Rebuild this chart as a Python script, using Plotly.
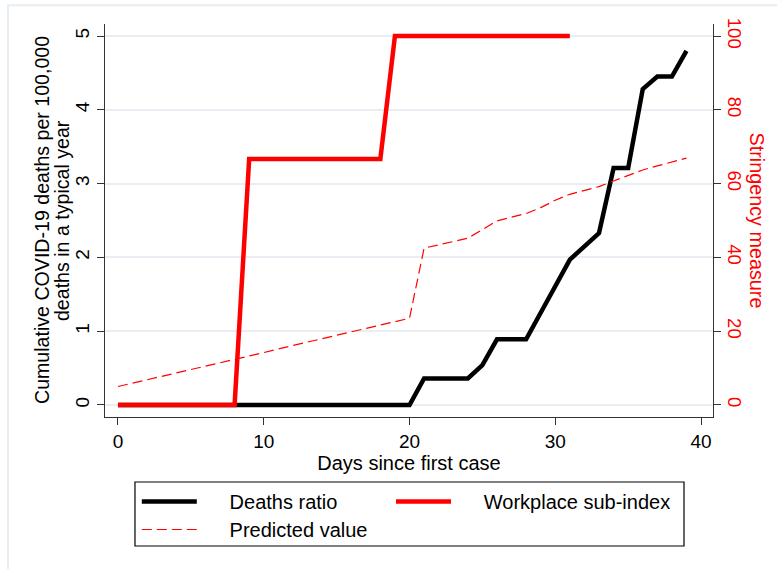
import plotly.graph_objects as go

days = list(range(40))

deaths_ratio = [0, 0, 0, 0, 0, 0, 0, 0, 0, 0,
                0, 0, 0, 0, 0, 0, 0, 0, 0, 0,
                0, 0.36, 0.36, 0.36, 0.36, 0.54, 0.89, 0.89, 0.89, 1.25,
                1.61, 1.97, 2.15, 2.33, 3.21, 3.21, 4.28, 4.45, 4.45, 4.80]

workplace_days = list(range(32))
workplace_index = [0, 0, 0, 0, 0, 0, 0, 0, 0, 66.67,
                   66.67, 66.67, 66.67, 66.67, 66.67, 66.67, 66.67, 66.67, 66.67, 100,
                   100, 100, 100, 100, 100, 100, 100, 100, 100, 100,
                   100, 100]

predicted = [5.0, 5.9, 6.8, 7.8, 8.7, 9.6, 10.5, 11.5, 12.4, 13.3,
             14.2, 15.2, 16.1, 17.0, 18.0, 18.9, 19.8, 20.7, 21.7, 22.6,
             23.5, 42.5, 43.4, 44.3, 45.2, 47.5, 49.9, 50.9, 51.9, 53.5,
             55.5, 57.1, 58.2, 59.2, 60.7, 62.1, 63.7, 64.8, 65.8, 66.9]

x_ticks = [0, 10, 20, 30, 40]
y_ticks = [0, 1, 2, 3, 4, 5]
y2_ticks = [0, 20, 40, 60, 80, 100]

FONT = "Liberation Sans, Arial, sans-serif"
RED = "#ff0000"
AXIS = "#333333"
GRID = "#e8eef3"
PAD = "\u00a0" * 5

fig = go.Figure()
fig.add_trace(go.Scatter(x=days, y=deaths_ratio, mode="lines", name=PAD + "Deaths ratio",
                         line=dict(color="black", width=4.5), yaxis="y", legend="legend"))
fig.add_trace(go.Scatter(x=workplace_days, y=workplace_index, mode="lines",
                         name=PAD + "Workplace sub-index",
                         line=dict(color=RED, width=4.5), yaxis="y2", legend="legend2"))
fig.add_trace(go.Scatter(x=days, y=predicted, mode="lines", name=PAD + "Predicted value",
                         line=dict(color=RED, width=1.2, dash="10px,5px"), yaxis="y2",
                         legend="legend3"))

leg_common = dict(xanchor="left", yanchor="top", borderwidth=0,
                  bgcolor="rgba(0,0,0,0)", itemwidth=55,
                  font=dict(family=FONT, size=20, color="black"))

fig.update_layout(
    width=777, height=569,
    margin=dict(l=105, r=64, t=24, b=152, autoexpand=False),
    paper_bgcolor="white", plot_bgcolor="white",
    font=dict(family=FONT, size=19, color="black"),
    showlegend=True,
    legend=dict(x=0.0523, y=-0.1654, **leg_common),
    legend2=dict(x=0.4704, y=-0.1654, **leg_common),
    legend3=dict(x=0.0523, y=-0.2366, **leg_common),
    xaxis=dict(range=[-0.89, 40.82], tickvals=x_ticks, ticks="outside", ticklen=7,
               tickcolor=AXIS, showline=True, linecolor=AXIS, linewidth=1.2,
               showgrid=False, zeroline=False, automargin=False,
               tickfont=dict(size=19),
               title=dict(text="Days since first case", standoff=1,
                          font=dict(size=20))),
    yaxis=dict(range=[-0.163, 5.163], tickvals=y_ticks, ticks="outside", ticklen=7,
               tickcolor=AXIS, tickangle=-90, showline=True, linecolor=AXIS, linewidth=1.2,
               tickfont=dict(size=19),
               showgrid=True, gridcolor=GRID, gridwidth=1.5, zeroline=False,
               automargin=False),
    yaxis2=dict(range=[-3.26, 103.26], tickvals=y2_ticks, overlaying="y", side="right",
                ticks="outside", ticklen=7, tickcolor=AXIS, tickangle=90,
                tickfont=dict(color=RED, size=18.5),
                showline=True, linecolor=AXIS, linewidth=1.2,
                showgrid=False, zeroline=False, automargin=False),
    annotations=[
        dict(text="Cumulative COVID-19 deaths per 100,000", xref="paper", yref="paper",
             x=-0.1044, y=0.5, xanchor="center", yanchor="middle",
             textangle=-90, showarrow=False,
             font=dict(family=FONT, size=19.6, color="black")),
        dict(text="deaths in a typical year", xref="paper", yref="paper",
             x=-0.0715, y=0.5, xanchor="center", yanchor="middle",
             textangle=-90, showarrow=False,
             font=dict(family=FONT, size=19.6, color="black")),
        dict(text="Stringency measure", xref="paper", yref="paper",
             x=1.0724, y=0.5, xanchor="center", yanchor="middle",
             textangle=90, showarrow=False,
             font=dict(family=FONT, size=19.8, color=RED)),
    ],
    shapes=[dict(type="rect", xref="paper", yref="paper",
                 x0=-0.1595, x1=1.3, y0=-0.5, y1=1.048,
                 line=dict(color="#e6eef3", width=2), layer="below"),
            dict(type="rect", xref="paper", yref="paper",
                 x0=0.0493, x1=0.9523, y0=-0.3282, y1=-0.1654,
                 line=dict(color="black", width=1.2), layer="above")],
)

fig.write_html("out.html", config={"displayModeBar": False},
               post_script="document.body.style.margin='0';")
